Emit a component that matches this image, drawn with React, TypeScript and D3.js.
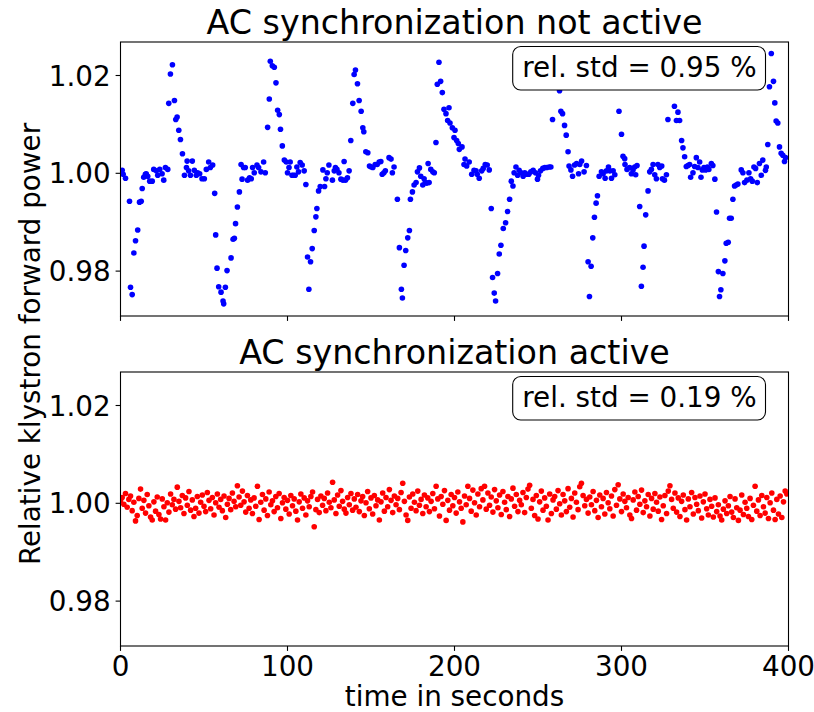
import React from 'react';
import * as d3 from 'd3';

// ---------- data ----------
const topTime = [
  1.0, 1.6, 3.0, 5.4, 6.0, 7.0, 8.0, 9.0, 10.3, 11.4, 12.4, 13.0, 13.9, 14.9, 15.4, 16.3, 17.5, 19.0, 19.9, 21.5,
  22.3, 23.5, 24.9, 25.9, 26.9, 28.3, 28.9, 29.9, 31.1, 32.3, 33.1, 33.9, 34.9, 35.9, 37.1, 38.3, 39.5, 39.9, 40.8, 41.9,
  43.0, 44.2, 45.4, 46.2, 47.4, 48.8, 50.2, 51.4, 52.8, 53.8, 55.2, 56.4, 57.0, 57.8, 58.8, 60.2, 61.4, 61.8, 62.8, 63.8,
  66.2, 67.4, 68.2, 68.9, 70.0, 71.2, 72.2, 72.8, 73.7, 74.7, 76.1, 77.3, 78.3, 79.1, 80.1, 81.7, 82.7, 84.1, 85.7, 86.7,
  88.1, 89.1, 89.7, 90.9, 92.1, 93.1, 94.1, 95.1, 95.8, 96.9, 98.1, 99.3, 100.0, 100.9, 101.6, 102.7, 103.6, 104.6, 105.6, 106.6,
  107.6, 108.8, 110.0, 111.0, 112.0, 112.8, 113.8, 114.8, 116.0, 117.0, 117.6, 118.6, 119.6, 121.2, 122.2, 123.0, 123.8, 124.8, 126.9, 128.0,
  128.7, 129.6, 130.8, 132.0, 133.2, 133.9, 134.7, 135.9, 136.9, 137.9, 139.1, 139.9, 140.7, 141.9, 142.9, 144.1, 145.1, 145.7, 146.9, 148.1,
  149.1, 150.1, 151.1, 152.5, 153.7, 154.9, 155.9, 156.7, 157.7, 158.6, 160.8, 162.0, 162.8, 163.8, 165.8, 167.0, 168.2, 168.8, 169.8, 170.8,
  172.0, 173.0, 173.6, 174.8, 175.8, 177.0, 177.8, 179.0, 179.8, 181.0, 181.8, 182.5, 183.4, 184.2, 184.8, 185.8, 187.0, 187.9, 188.9, 189.7,
  190.7, 191.7, 192.7, 193.7, 194.9, 195.9, 196.7, 197.3, 198.7, 199.7, 200.3, 201.3, 202.3, 202.9, 204.5, 205.7, 206.3, 207.3, 208.8, 210.3,
  211.7, 212.9, 213.6, 214.8, 216.3, 217.2, 218.4, 219.6, 220.8, 222.0, 222.8, 223.8, 224.6, 225.8, 226.8, 227.8, 229.2, 230.6, 231.8, 233.0,
  234.0, 235.0, 235.7, 236.8, 237.8, 238.7, 239.9, 241.1, 242.1, 243.3, 244.5, 245.7, 247.1, 248.5, 249.7, 250.3, 251.5, 252.9, 254.1, 255.3,
  256.7, 257.7, 258.7, 262.9, 263.7, 264.7, 265.9, 266.9, 268.0, 268.6, 269.7, 270.7, 271.9, 273.1, 274.3, 275.0, 276.1, 277.6, 279.0, 280.0,
  280.8, 281.8, 282.8, 283.8, 284.8, 285.6, 286.6, 288.0, 289.0, 290.2, 291.0, 292.2, 293.0, 294.0, 295.0, 296.0, 298.5, 300.0, 300.9, 301.9,
  302.1, 303.3, 304.9, 305.9, 306.9, 307.9, 308.5, 309.3, 310.9, 311.9, 312.9, 313.5, 314.5, 315.9, 316.9, 317.9, 318.9, 319.9, 320.9, 321.8,
  322.9, 324.1, 324.5, 325.7, 326.9, 327.8, 331.7, 332.9, 333.8, 334.8, 336.0, 336.8, 337.8, 338.8, 339.8, 340.8, 341.4, 342.8, 343.8, 344.8,
  345.8, 346.8, 347.6, 348.4, 349.4, 350.4, 351.4, 352.3, 353.8, 354.7, 355.9, 356.9, 358.0, 358.7, 359.5, 360.7, 361.9, 362.7, 363.9, 364.7,
  365.7, 366.7, 367.7, 368.7, 369.7, 371.7, 372.7, 373.7, 375.1, 376.3, 377.3, 378.3, 379.3, 380.3, 381.3, 382.6, 383.7, 384.6, 386.2, 386.7,
  387.6, 388.6, 389.7, 391.0, 391.8, 392.6, 393.6, 394.6, 395.6, 396.6, 397.6, 398.2,
];

const topValue = [
  1.0006, 0.9998, 0.9990, 0.9943, 0.9767, 0.9752, 0.9837, 0.9862, 0.9884, 0.9941, 0.9943, 0.9969, 0.9992, 0.9998, 0.9999, 0.9994, 0.9984, 0.9984, 1.0008, 1.0005,
  0.9996, 1.0008, 0.9999, 0.9986, 1.0012, 1.0008, 1.0143, 1.0203, 1.0222, 1.0149, 1.0110, 1.0115, 1.0088, 1.0069, 1.0040, 0.9996, 1.0012, 1.0025, 1.0005, 0.9996,
  1.0025, 1.0006, 0.9996, 1.0001, 0.9999, 0.9989, 0.9989, 1.0008, 1.0023, 1.0012, 1.0017, 0.9959, 0.9874, 0.9806, 0.9768, 0.9757, 0.9739, 0.9733, 0.9767, 0.9801,
  0.9827, 0.9865, 0.9867, 0.9897, 0.9931, 0.9962, 1.0018, 0.9988, 1.0012, 1.0012, 0.9986, 0.9991, 0.9989, 1.0012, 1.0001, 1.0017, 1.0012, 1.0003, 1.0023, 1.0001,
  1.0094, 1.0152, 1.0229, 1.0220, 1.0217, 1.0185, 1.0129, 1.0120, 1.0090, 1.0056, 1.0027, 1.0023, 1.0001, 1.0012, 1.0023, 0.9996, 0.9996, 0.9996, 1.0013, 1.0003,
  1.0022, 1.0017, 1.0005, 0.9977, 0.9829, 0.9763, 0.9819, 0.9846, 0.9883, 0.9911, 0.9928, 0.9964, 0.9973, 1.0007, 0.9973, 0.9989, 1.0001, 1.0017, 0.9986, 1.0005,
  1.0012, 1.0008, 1.0001, 0.9988, 0.9986, 1.0024, 0.9986, 0.9991, 1.0005, 1.0067, 1.0143, 1.0202, 1.0211, 1.0183, 1.0149, 1.0127, 1.0093, 1.0085, 1.0044, 1.0042,
  1.0015, 1.0013, 1.0012, 1.0018, 1.0018, 1.0023, 1.0024, 0.9998, 1.0001, 1.0005, 1.0032, 1.0029, 1.0001, 1.0013, 0.9947, 0.9848, 0.9763, 0.9745, 0.9812, 0.9842,
  0.9868, 0.9883, 0.9947, 0.9962, 0.9976, 0.9981, 1.0003, 1.0011, 0.9994, 0.9976, 0.9989, 0.9981, 0.9980, 1.0020, 0.9981, 1.0008, 1.0003, 1.0001, 1.0063, 1.0182,
  1.0227, 1.0188, 1.0165, 1.0131, 1.0122, 1.0108, 1.0134, 1.0103, 1.0093, 1.0073, 1.0088, 1.0067, 1.0061, 1.0049, 1.0054, 1.0018, 1.0029, 1.0015, 1.0023, 0.9998,
  1.0006, 1.0005, 0.9998, 0.9990, 1.0005, 1.0010, 1.0018, 1.0017, 1.0007, 0.9928, 0.9787, 0.9755, 0.9739, 0.9795, 0.9835, 0.9853, 0.9887, 0.9899, 0.9922, 0.9947,
  0.9984, 0.9974, 1.0001, 1.0013, 0.9996, 1.0006, 1.0001, 0.9994, 1.0001, 0.9998, 0.9998, 1.0003, 1.0006, 1.0001, 0.9988, 0.9996, 1.0005, 1.0010, 1.0012, 1.0012,
  1.0013, 1.0013, 1.0110, 1.0169, 1.0127, 1.0122, 1.0098, 1.0078, 1.0044, 1.0015, 1.0007, 0.9994, 1.0017, 1.0020, 0.9999, 1.0018, 1.0025, 1.0003, 1.0016, 0.9819,
  0.9748, 0.9810, 0.9868, 0.9910, 0.9939, 0.9954, 0.9994, 1.0003, 0.9999, 0.9990, 1.0005, 1.0013, 1.0005, 0.9990, 1.0005, 0.9997, 1.0127, 1.0080, 1.0035, 1.0030,
  1.0018, 1.0008, 1.0012, 0.9999, 1.0007, 1.0013, 0.9997, 1.0016, 0.9932, 0.9769, 0.9808, 0.9851, 0.9915, 0.9964, 1.0003, 1.0008, 1.0018, 0.9997, 0.9989, 1.0018,
  1.0012, 1.0015, 0.9989, 0.9986, 0.9997, 1.0110, 1.0137, 1.0108, 1.0125, 1.0108, 1.0067, 1.0052, 1.0034, 1.0014, 1.0016, 1.0018, 0.9992, 1.0001, 1.0014, 1.0032,
  1.0012, 1.0023, 0.9992, 1.0007, 1.0012, 1.0007, 1.0013, 1.0008, 1.0020, 1.0016, 0.9988, 0.9921, 0.9799, 0.9748, 0.9762, 0.9795, 0.9821, 0.9857, 0.9859, 0.9908,
  0.9908, 0.9947, 0.9974, 0.9976, 0.9978, 1.0007, 1.0001, 0.9981, 0.9986, 1.0001, 0.9989, 0.9984, 1.0013, 1.0010, 0.9981, 1.0020, 0.9996, 1.0027, 1.0006, 1.0013,
  1.0059, 1.0177, 1.0245, 1.0188, 1.0144, 1.0107, 1.0103, 1.0054, 1.0041, 1.0037, 1.0024, 1.0032,
];

// one reading per second, t = 0 ... 399 s
const bottomValue = [
  1.0005, 1.0012, 0.9998, 1.0020, 0.9992, 1.0008, 1.0015, 0.9985, 1.0002, 0.9964, 0.9975, 1.0010, 1.0029, 0.9990, 1.0006, 0.9980, 1.0018, 0.9995, 0.9972, 0.9966,
  1.0003, 0.9984, 1.0013, 0.9977, 0.9968, 1.0009, 0.9993, 0.9966, 1.0001, 0.9982, 1.0019, 0.9997, 1.0008, 0.9988, 1.0033, 1.0004, 0.9991, 1.0016, 0.9979, 1.0011,
  0.9996, 1.0024, 0.9986, 1.0007, 0.9973, 0.9990, 1.0014, 0.9980, 1.0002, 1.0017, 0.9994, 0.9983, 1.0022, 1.0006, 0.9989, 1.0012, 0.9976, 1.0001, 1.0019, 0.9992,
  1.0008, 0.9985, 1.0015, 0.9971, 0.9998, 1.0010, 0.9987, 1.0021, 1.0004, 0.9993, 1.0036, 1.0013, 0.9996, 1.0025, 1.0003, 0.9982, 1.0016, 0.9990, 1.0007, 0.9979,
  1.0011, 0.9994, 1.0035, 0.9967, 1.0002, 1.0018, 0.9986, 1.0009, 0.9975, 1.0023, 0.9997, 1.0005, 0.9983, 1.0014, 0.9991, 1.0020, 0.9969, 1.0001, 1.0012, 0.9988,
  1.0006, 0.9978, 1.0016, 0.9995, 1.0009, 0.9984, 0.9966, 1.0003, 1.0019, 0.9990, 1.0011, 0.9976, 1.0005, 0.9993, 1.0014, 1.0023, 0.9952, 0.9987, 1.0008, 0.9981,
  1.0015, 0.9996, 1.0010, 0.9985, 1.0021, 1.0002, 0.9991, 1.0043, 1.0007, 0.9979, 1.0017, 0.9994, 1.0026, 1.0004, 0.9988, 0.9980, 1.0012, 0.9997, 1.0020, 0.9986,
  1.0009, 0.9992, 1.0018, 0.9983, 1.0005, 1.0014, 0.9975, 1.0001, 1.0024, 0.9989, 1.0011, 0.9978, 1.0016, 0.9995, 1.0007, 0.9966, 1.0003, 1.0021, 0.9984, 1.0012,
  0.9993, 1.0028, 1.0006, 0.9981, 1.0015, 0.9997, 1.0010, 0.9987, 1.0022, 1.0041, 1.0004, 0.9976, 0.9965, 1.0013, 0.9990, 1.0019, 1.0002, 0.9985, 1.0025, 0.9996,
  1.0008, 0.9979, 1.0017, 0.9993, 1.0011, 0.9983, 1.0004, 1.0020, 0.9989, 1.0035, 1.0009, 0.9974, 1.0014, 0.9998, 1.0026, 0.9965, 1.0006, 0.9986, 1.0018, 0.9995,
  1.0012, 0.9980, 1.0023, 1.0003, 0.9990, 0.9962, 1.0015, 0.9997, 1.0035, 1.0010, 0.9984, 1.0027, 1.0001, 0.9976, 1.0019, 0.9993, 1.0030, 1.0007, 1.0035, 0.9988,
  1.0021, 0.9996, 1.0013, 0.9982, 1.0028, 1.0005, 0.9991, 1.0017, 0.9977, 1.0024, 1.0002, 0.9987, 1.0014, 0.9973, 1.0009, 1.0031, 0.9994, 1.0018, 0.9983, 1.0006,
  0.9997, 1.0022, 0.9981, 1.0012, 1.0029, 1.0037, 0.9990, 1.0008, 0.9975, 1.0016, 0.9968, 1.0003, 1.0025, 0.9986, 1.0011, 0.9994, 0.9966, 1.0019, 0.9979, 1.0007,
  1.0014, 0.9988, 1.0026, 0.9999, 0.9976, 1.0018, 1.0005, 0.9983, 1.0030, 0.9992, 1.0010, 0.9972, 1.0021, 1.0002, 0.9987, 1.0034, 1.0041, 1.0016, 0.9995, 1.0008,
  0.9980, 1.0013, 0.9997, 1.0024, 0.9985, 1.0006, 0.9971, 1.0017, 0.9993, 1.0010, 0.9978, 1.0022, 1.0001, 0.9989, 1.0015, 0.9974, 1.0028, 0.9996, 1.0038, 1.0009,
  0.9983, 1.0019, 1.0004, 0.9991, 1.0012, 0.9976, 0.9969, 1.0007, 1.0023, 0.9986, 1.0014, 0.9998, 1.0027, 0.9981, 1.0005, 0.9993, 1.0018, 0.9974, 1.0010, 0.9988,
  1.0020, 1.0002, 0.9984, 1.0013, 0.9967, 0.9995, 1.0016, 0.9979, 1.0025, 1.0036, 1.0008, 0.9990, 1.0021, 0.9982, 1.0011, 0.9973, 1.0004, 1.0017, 0.9987, 0.9966,
  1.0009, 0.9993, 1.0022, 0.9978, 1.0012, 0.9998, 0.9985, 1.0015, 0.9970, 1.0003, 1.0019, 0.9989, 0.9976, 1.0008, 0.9994, 0.9972, 1.0011, 0.9983, 0.9997, 0.9974,
  0.9966, 0.9988, 1.0005, 0.9979, 0.9995, 1.0014, 0.9982, 0.9971, 1.0009, 0.9991, 0.9965, 0.9986, 1.0017, 0.9977, 1.0002, 0.9990, 0.9973, 1.0010, 0.9967, 0.9996,
  1.0035, 0.9984, 1.0007, 0.9975, 1.0016, 0.9993, 0.9980, 1.0012, 0.9969, 1.0001, 1.0021, 0.9986, 0.9967, 1.0008, 0.9978, 1.0015, 0.9971, 1.0003, 1.0025, 1.0019,
];
const bottomTime = d3.range(bottomValue.length);

const xTicks = [0, 100, 200, 300, 400];
const yTicks = [0.98, 1.0, 1.02];
const panelTitles = ['AC synchronization not active', 'AC synchronization active'];
const stdLabels = ['rel. std = 0.95 %', 'rel. std = 0.19 %'];
const xLabel = 'time in seconds';
const yLabel = 'Relative klystron forward power';

// ---------- layout ----------
const W = 814;
const H = 712;
const LEFT = 120.5;
const RIGHT = 788.5;
const FONT = '"DejaVu Sans", Verdana, sans-serif';
const FS = 27.8;
const TITLE_FS = 33.3;
const TICK_LEN = 4.9;
const panels = [
  { top: 42, bottom: 316, color: '#0000ff', times: topTime, values: topValue },
  { top: 372, bottom: 646, color: '#ff0000', times: bottomTime, values: bottomValue },
];

const x = d3.scaleLinear().domain([0, 400]).range([LEFT, RIGHT]);

function Panel({ idx }: { idx: number }) {
  const p = panels[idx];
  const y = d3.scaleLinear().domain([0.97082, 1.02685]).range([p.bottom, p.top]);
  const clipId = `clip${idx}`;
  const isBottom = idx === 1;
  const boxTop = p.top + 4.5;
  return (
    <g>
      <defs>
        <clipPath id={clipId}>
          <rect x={LEFT} y={p.top} width={RIGHT - LEFT} height={p.bottom - p.top} />
        </clipPath>
      </defs>
      <g clipPath={`url(#${clipId})`}>
        {p.values.map((v, i) => (
          <circle key={i} cx={x(p.times[i])} cy={y(v)} r={2.8} fill={p.color} />
        ))}
      </g>
      <rect x={LEFT} y={p.top} width={RIGHT - LEFT} height={p.bottom - p.top} fill="none" stroke="#000" strokeWidth={1.1} />
      {yTicks.map((t) => (
        <g key={t}>
          <line x1={LEFT - TICK_LEN} x2={LEFT} y1={y(t)} y2={y(t)} stroke="#000" strokeWidth={1.1} />
          <text x={LEFT - TICK_LEN - 4.9} y={y(t)} dy="0.36em" textAnchor="end" fontFamily={FONT} fontSize={FS} fill="#000">
            {d3.format('.2f')(t)}
          </text>
        </g>
      ))}
      {xTicks.map((t) => (
        <g key={t}>
          <line x1={x(t)} x2={x(t)} y1={p.bottom} y2={p.bottom + TICK_LEN} stroke="#000" strokeWidth={1.1} />
          {isBottom && (
            <text x={x(t)} y={676} textAnchor="middle" fontFamily={FONT} fontSize={FS} fill="#000">
              {t}
            </text>
          )}
        </g>
      ))}
      <text x={(LEFT + RIGHT) / 2} y={p.top - 8.5} textAnchor="middle" fontFamily={FONT} fontSize={TITLE_FS} fill="#000">
        {panelTitles[idx]}
      </text>
      <rect x={512.7} y={boxTop} width={252.8} height={43.5} rx={8} ry={8} fill="#fff" stroke="#000" strokeWidth={1.1} />
      <text x={756.7} y={boxTop + 30} textAnchor="end" fontFamily={FONT} fontSize={FS} fill="#000">
        {stdLabels[idx]}
      </text>
    </g>
  );
}

export default function App() {
  return (
    <svg
      width={W}
      height={H}
      viewBox={`0 0 ${W} ${H}`}
      style={{ position: 'absolute', left: 0, top: 0, background: '#fff' }}
    >
      <rect x={0} y={0} width={W} height={H} fill="#fff" />
      <Panel idx={0} />
      <Panel idx={1} />
      <text x={(LEFT + RIGHT) / 2} y={706} textAnchor="middle" fontFamily={FONT} fontSize={FS} fill="#000">
        {xLabel}
      </text>
      <text
        transform={`translate(40, 344) rotate(-90)`}
        textAnchor="middle"
        fontFamily={FONT}
        fontSize={FS}
        fill="#000"
      >
        {yLabel}
      </text>
    </svg>
  );
}
